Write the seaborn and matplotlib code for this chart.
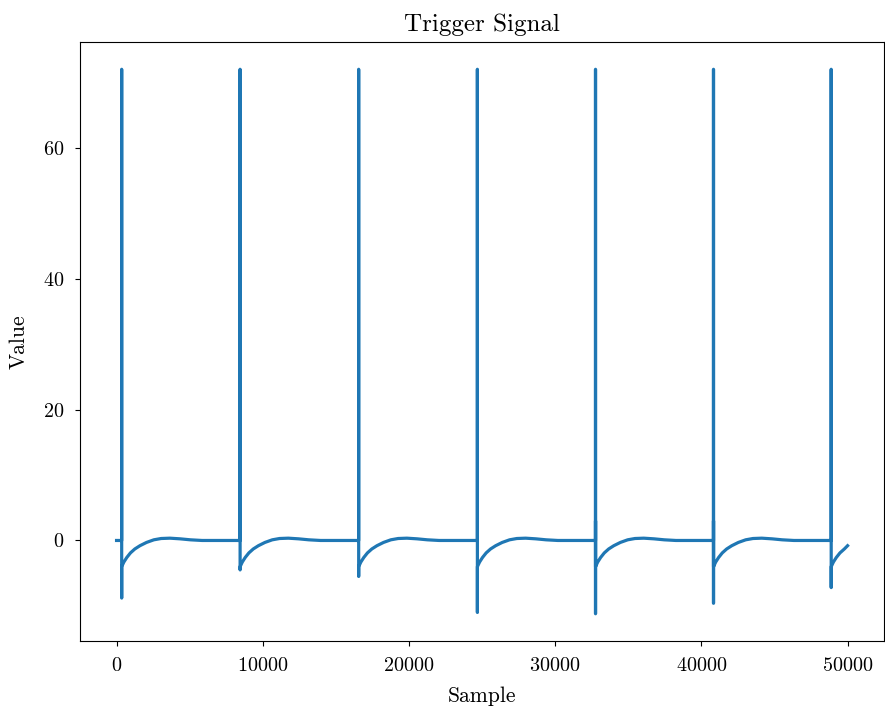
import matplotlib
matplotlib.use("Agg")
import matplotlib.pyplot as plt
import seaborn as sns
import pandas as pd

# posiciones de los disparos y valores
spike_pos = [350, 8450, 16560, 24680, 32760, 40830, 48880]
spike_peak = [72, 72, 72, 72, 72, 72, 72]
spike_dip = [-8.8, -4.5, -5.5, -11.0, -11.2, -9.6, -7.2]
spike_blip = [None, None, None, None, 3.0, 3.0, None]

# forma de la recuperacion despues de cada disparo (desplazamiento, valor)
recovery_offset = [2, 150, 350, 600, 900, 1250, 1700, 2200, 2700, 3300, 4000, 4700, 5500]
recovery_value = [-4.0, -3.3, -2.6, -1.9, -1.3, -0.8, -0.3, 0.1, 0.3, 0.35, 0.25, 0.1, 0.0]

start_sample, start_value = 0, 0.0
end_sample, end_value = 50000, -0.8

# armamos la serie
xs = [start_sample]
ys = [start_value]
for p, peak, dip, blip in zip(spike_pos, spike_peak, spike_dip, spike_blip):
    xs += [p - 1, p, p + 1]
    ys += [0.0, peak, dip]
    if blip is not None:
        xs.append(p + 1)
        ys.append(blip)
    for off, val in zip(recovery_offset, recovery_value):
        if p + off >= end_sample:
            break
        xs.append(p + off)
        ys.append(val)
xs.append(end_sample)
ys.append(end_value)

df = pd.DataFrame({"Sample": xs, "Value": ys})

plt.rcParams["font.family"] = "cmr10"
plt.rcParams["mathtext.fontset"] = "cm"
plt.rcParams["axes.formatter.use_mathtext"] = True

fig = plt.figure(figsize=(8.85, 7.13), dpi=100)
ax = fig.add_axes([0.0904, 0.101, 0.9086, 0.84])
sns.lineplot(data=df, x="Sample", y="Value", sort=False, estimator=None,
             color="#1f77b4", linewidth=2.3, ax=ax)
ax.set_title("Trigger Signal", fontsize=18, pad=8)
ax.set_xlabel("Sample", fontsize=15.5, labelpad=8)
ax.set_ylabel("Value", fontsize=15.5, labelpad=10)
ax.tick_params(labelsize=14.5, pad=8)
ax.set_xticks([0, 10000, 20000, 30000, 40000, 50000])
ax.set_yticks([0, 20, 40, 60])
fig.savefig("out.png", dpi=100)
